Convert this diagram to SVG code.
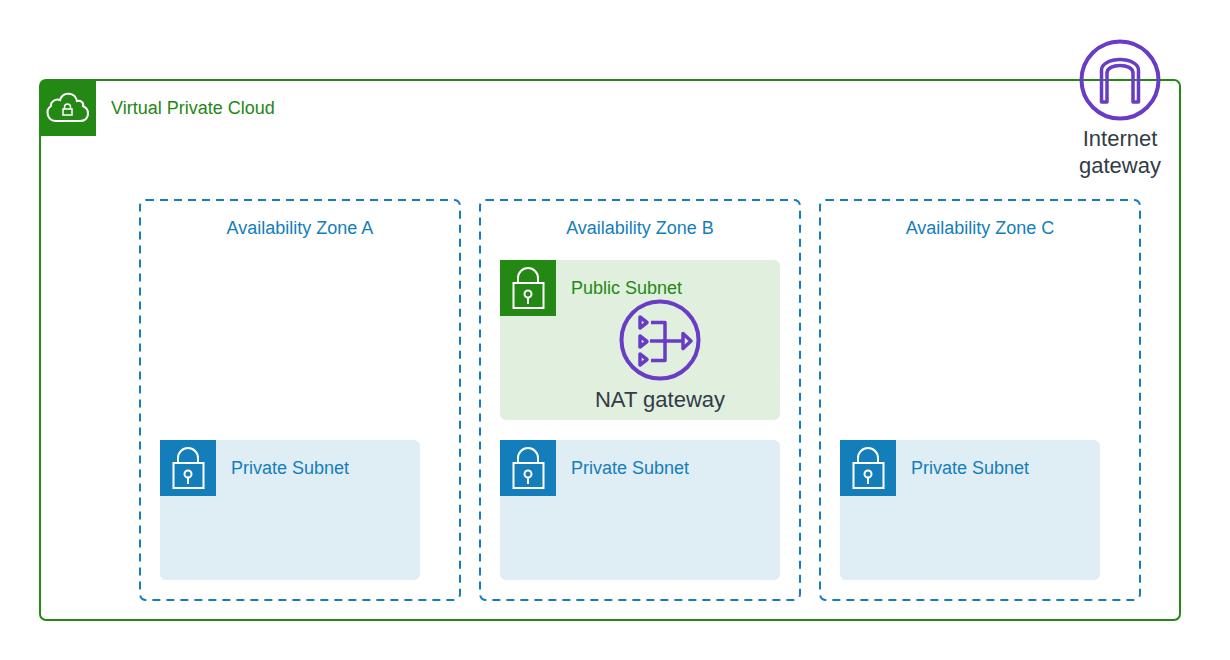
<svg xmlns="http://www.w3.org/2000/svg" width="1230" height="660" viewBox="0 0 1230 660">
<style>
text{font-family:"Liberation Sans",Arial,sans-serif;opacity:.999}
.l{font-size:18px}
.g{fill:#248814}.b{fill:#147eba}
.az{fill:none;stroke:#147eba;stroke-width:2;stroke-dasharray:8 6}
.sub-b{fill:#dfedf5}.sub-g{fill:#e0efde}
.w{fill:none;stroke:#fff;stroke-width:2}
.p{fill:none;stroke:#693cc5;stroke-width:4;stroke-linejoin:round}
.i{fill:none;stroke:#693cc5;stroke-width:3.500;stroke-linejoin:round}
.d{font-size:22px;fill:#333b47}
</style>
<defs>
<g id="lock">
<rect x="13.500" y="23" width="30" height="25" class="w"/>
<path d="M18 23V18A10 10 0 0 1 38 18V23" class="w"/>
<circle cx="28" cy="34" r="3.500" class="w"/>
<path d="M28 37.500V44" class="w"/>
</g>
</defs>
<g id="connectors"/>
<g id="vpc">
<rect x="40" y="80" width="1140" height="540" rx="6" fill="#fff" stroke="#248814" stroke-width="2"/>
<path d="M41 81H96V136H41Z" class="g"/>
<path d="M59 121H56C47 121 45 110 51 106C50 102 56 98 60 100C63 91 75 92 77 101C81 100 84 103 83 106C91 110 89 121 80 121Z" class="w"/>
<rect x="63" y="109" width="9" height="6" fill="none" stroke="#fff" stroke-width="1.500"/>
<path d="M64.500 109V107A3 3 0 0 1 70.500 107V109" fill="none" stroke="#fff" stroke-width="1.500"/>
<text x="111" y="114" class="l g">Virtual Private Cloud</text>
</g>
<g id="az-a">
<rect x="140" y="200" width="320" height="400" rx="6" class="az"/>
<text x="300" y="234" text-anchor="middle" class="l b">Availability Zone A</text>
</g>
<g id="az-b">
<rect x="480" y="200" width="320" height="400" rx="6" class="az"/>
<text x="640" y="234" text-anchor="middle" class="l b">Availability Zone B</text>
</g>
<g id="az-c">
<rect x="820" y="200" width="320" height="400" rx="6" class="az"/>
<text x="980" y="234" text-anchor="middle" class="l b">Availability Zone C</text>
</g>
<g id="public-subnet">
<rect x="500" y="260" width="280" height="160" rx="6" class="sub-g"/>
<rect x="500" y="260" width="56" height="56" class="g"/>
<use href="#lock" x="500" y="260"/>
<text x="571" y="294" class="l g">Public Subnet</text>
</g>
<g id="private-subnet-a">
<rect x="160" y="440" width="260" height="140" rx="6" class="sub-b"/>
<rect x="160" y="440" width="56" height="56" class="b"/>
<use href="#lock" x="160" y="440"/>
<text x="231" y="474" class="l b">Private Subnet</text>
</g>
<g id="private-subnet-b">
<rect x="500" y="440" width="280" height="140" rx="6" class="sub-b"/>
<rect x="500" y="440" width="56" height="56" class="b"/>
<use href="#lock" x="500" y="440"/>
<text x="571" y="474" class="l b">Private Subnet</text>
</g>
<g id="private-subnet-c">
<rect x="840" y="440" width="260" height="140" rx="6" class="sub-b"/>
<rect x="840" y="440" width="56" height="56" class="b"/>
<use href="#lock" x="840" y="440"/>
<text x="911" y="474" class="l b">Private Subnet</text>
</g>
<g id="nat-gateway">
<circle cx="660" cy="340" r="38.500" class="p"/>
<g class="i">
<path d="M640 317L647 322.500L640 328Z"/>
<path d="M640 336L647 341.500L640 347Z"/>
<path d="M640 354L647 359.500L640 365Z"/>
<path d="M651 322.500H665V360.500H651M650 341H683"/>
<path d="M683 333.500L691 341L683 348.500Z"/>
</g>
<text x="660" y="407" text-anchor="middle" class="d">NAT gateway</text>
</g>
<g id="internet-gateway">
<circle cx="1120" cy="80" r="38.500" class="p"/>
<path d="M1101.500 102V70C1101.500 64 1110 59.500 1120 59.500C1130 59.500 1138.500 64 1138.500 70V102H1133V73C1133 68 1127 65.500 1120 65.500C1113 65.500 1107 68 1107 73V102Z" class="i"/>
<text x="1120" y="146" text-anchor="middle" class="d">Internet</text>
<text x="1120" y="173" text-anchor="middle" class="d">gateway</text>
</g>
</svg>
